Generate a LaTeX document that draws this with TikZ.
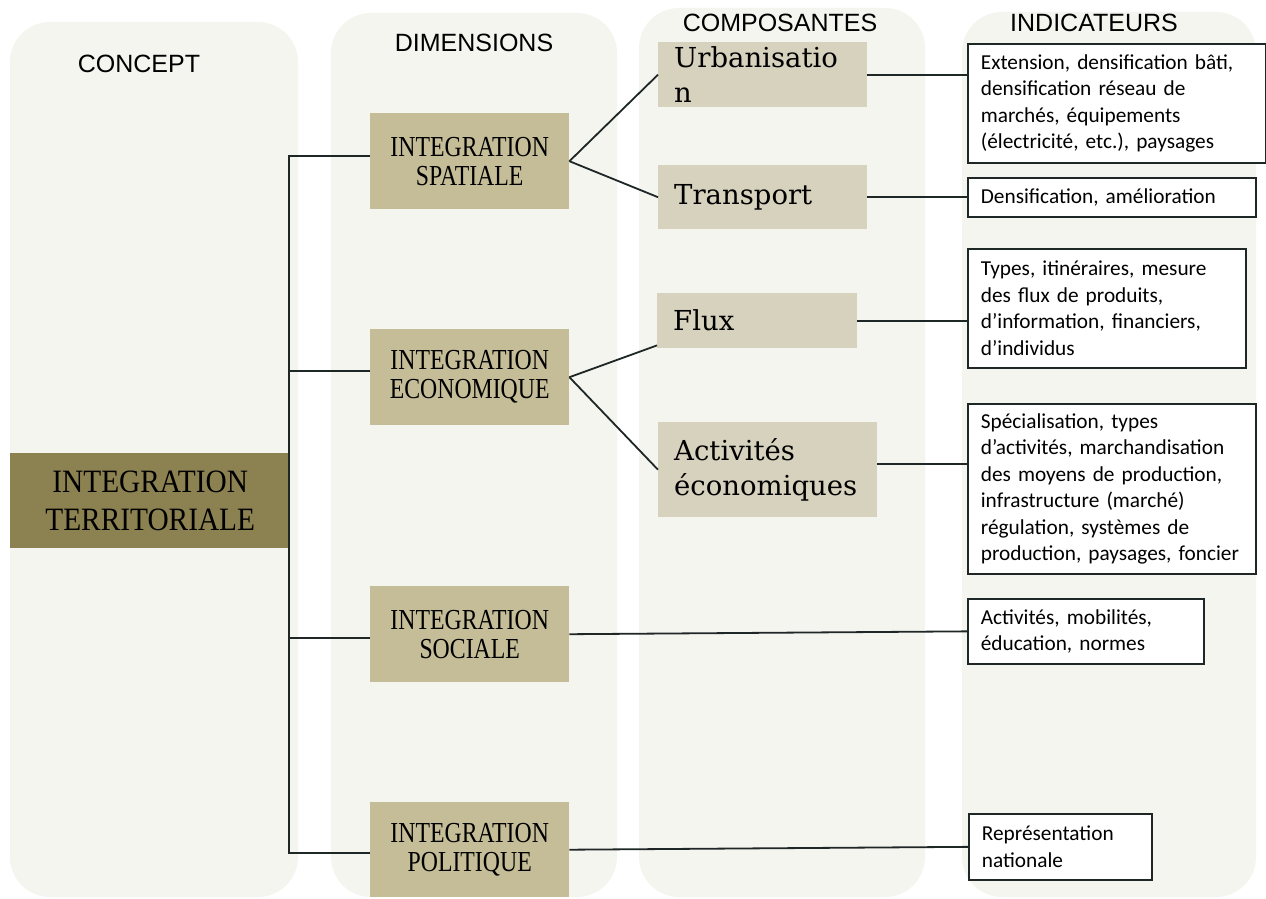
\documentclass[tikz,border=0pt]{standalone}
\usepackage{fontspec}
\setmainfont{Liberation Serif}
\newfontfamily\hdrfont{Liberation Sans}
\newfontfamily\dimfont[FakeStretch=0.82]{Liberation Serif}
\newfontfamily\terrfont[FakeStretch=0.9]{Liberation Serif}
\newfontfamily\compfont{DejaVu Serif}
\newfontfamily\indfont{Carlito}
\definecolor{colbg}{HTML}{F5F5F0}
\definecolor{tandark}{HTML}{C4BD97}
\definecolor{tanlight}{HTML}{D7D2BD}
\definecolor{olive}{HTML}{8C8150}
\definecolor{linec}{HTML}{1E2626}
\begin{document}
\begin{tikzpicture}[x=1pt,y=-1pt,
  colbox/.style={fill=colbg, rounded corners=40pt},
  hdr/.style={font={\hdrfont\fontsize{25}{25}\selectfont}, inner sep=0pt},
  dimbox/.style={fill=tandark, anchor=north west, minimum width=199pt, minimum height=96pt, inner sep=0pt, align=center, font={\dimfont\fontsize{29}{29}\selectfont}},
  terrbox/.style={fill=olive, anchor=north west, minimum width=280pt, minimum height=95pt, inner sep=0pt, align=center, font={\terrfont\fontsize{32.6}{38}\selectfont}},
  compbox/.style={fill=tanlight, anchor=north west, inner xsep=16pt, inner ysep=0pt, align=left, font={\compfont\fontsize{27.5}{35}\selectfont}},
  indbox/.style={draw=linec, line width=1.7pt, fill=white, anchor=north west, inner xsep=13pt, inner ysep=0pt, align=left, font={\indfont\fontsize{21.3}{26.5}\selectfont}},
  conn/.style={draw=linec, line width=1.8pt}
]
\useasboundingbox (0,0) rectangle (1266,899);
\fill[white] (0,0) rectangle (1266,899);
% column backgrounds
\fill[colbox] (10,22) rectangle (298,897);
\fill[colbox] (331,13) rectangle (617,897);
\fill[colbox] (639,8) rectangle (925,897);
\fill[colbox] (962,12) rectangle (1256,897);
% headers
\node[hdr] (hconcept) at (139,64) {CONCEPT};
\node[hdr] (hdim) at (474,43) {DIMENSIONS};
\node[hdr] (hcomp) at (780,23) {COMPOSANTES};
\node[hdr] (hind) at (1094,23) {INDICATEURS};
% concept
\node[terrbox] (terr) at (10,453) {INTEGRATION\\TERRITORIALE};
% dimensions
\node[dimbox] (spat) at (370,113) {INTEGRATION\\SPATIALE};
\node[dimbox] (eco) at (370,329) {INTEGRATION\\ECONOMIQUE};
\node[dimbox] (soc) at (370,586) {INTEGRATION\\SOCIALE};
\node[dimbox, minimum height=95pt] (pol) at (370,802) {INTEGRATION\\POLITIQUE};
% composantes
\node[compbox, text width=177pt, minimum height=65pt] (urb) at (658,42) {Urbanisatio\\n};
\node[compbox, text width=177pt, minimum height=64pt] (trans) at (658,165) {Transport};
\node[compbox, text width=168pt, minimum height=55pt] (flux) at (657,293) {Flux};
\node[compbox, text width=187pt, minimum height=95pt] (act) at (658,422) {Activités\\économiques};
% indicateurs
\node[indbox, text width=272pt, minimum height=119pt] (ind1) at (967,43)
  {\mbox{Extension, densification bâti,}\\densification réseau de\\marchés, équipements\\\mbox{(électricité, etc.), paysages}};
\node[indbox, text width=262pt, minimum height=39pt] (ind2) at (967,177)
  {Densification, amélioration};
\node[indbox, text width=252pt, minimum height=119pt] (ind3) at (967,248)
  {Types, itinéraires, mesure\\des flux de produits,\\\mbox{d’information, financiers,}\\d’individus};
\node[indbox, text width=262pt, minimum height=170pt] (ind4) at (967,403)
  {Spécialisation, types\\\mbox{d’activités, marchandisation}\\\mbox{des moyens de production,}\\infrastructure (marché)\\régulation, systèmes de\\\mbox{production, paysages, foncier}};
\node[indbox, text width=210pt, minimum height=65pt] (ind5) at (967,598)
  {Activités, mobilités,\\éducation, normes};
\node[indbox, text width=157pt, minimum height=66pt] (ind6) at (968,813)
  {Représentation\\nationale};
% trunk
\coordinate (trunk) at (289,0);
\path ([yshift=5pt]spat.west) coordinate (sj)
      ([yshift=6pt]eco.west) coordinate (ej)
      ([yshift=-4pt]soc.west) coordinate (cj)
      ([yshift=-3.5pt]pol.west) coordinate (pj)
      ([yshift=6pt]act.east) coordinate (aj);
\draw[conn] (sj) -- (sj -| trunk) -- (pj -| trunk) -- (pj);
\draw[conn] (ej) -- (ej -| trunk);
\draw[conn] (cj) -- (cj -| trunk);
% dimensions to composantes
\draw[conn] (spat.east) -- (urb.west);
\draw[conn] (spat.east) -- (trans.west);
\draw[conn] (eco.east) -- ([yshift=3pt]flux.south west);
\draw[conn] (eco.east) -- (act.west);
% composantes to indicateurs
\draw[conn] (urb.east) -- (urb.east -| ind1.west);
\draw[conn] (trans.east) -- (trans.east -| ind2.west);
\draw[conn] (flux.east) -- (flux.east -| ind3.west);
\draw[conn] (aj) -- (aj -| ind4.west);
\draw[conn] (soc.east) -- (ind5.west);
\draw[conn] (pol.east) -- (ind6.west);
\end{tikzpicture}
\end{document}
